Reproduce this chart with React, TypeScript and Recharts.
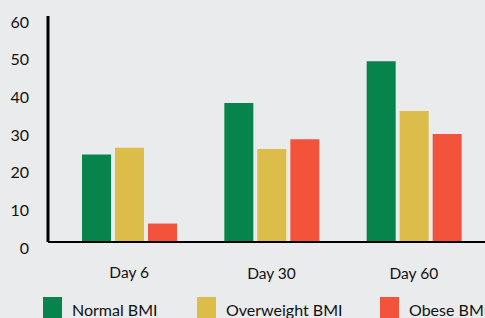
import { Bar, BarChart, XAxis, YAxis } from 'recharts';

const days = ['Day 6', 'Day 30', 'Day 60'];
const normalBmi = [23.2, 36.9, 48.0];
const overweightBmi = [25.0, 24.7, 34.8];
const obeseBmi = [4.9, 27.3, 28.7];
const yTicks = [0, 10, 20, 30, 40, 50, 60];

const COLORS = {
  normal: '#07834c',
  overweight: '#dcbd4a',
  obese: '#f2533a',
};
const FONT = 'Lato, "Open Sans", sans-serif';

const chartData = days.map((day, i) => ({
  day,
  normal: normalBmi[i],
  overweight: overweightBmi[i],
  obese: obeseBmi[i],
}));

function YTick({ x, y, payload }: any) {
  return (
    <text x={x} y={y + 6} dy="0.355em" textAnchor="end" fontSize={16} fill="#111" fontFamily={FONT}>
      {payload.value}
    </text>
  );
}

function XTick({ x, y, payload, index }: any) {
  const offsets = [22, 23, 23];
  return (
    <text x={x} y={y + offsets[index ?? 0]} dy="0.355em" textAnchor="middle" fontSize={15.5} fill="#111" fontFamily={FONT}>
      {payload.value}
    </text>
  );
}

const legendItems = [
  { label: 'Normal BMI', color: COLORS.normal, left: 43 },
  { label: 'Overweight BMI', color: COLORS.overweight, left: 197 },
  { label: 'Obese BMI', color: COLORS.obese, left: 380 },
];

export default function App() {
  return (
    <div
      style={{
        position: 'fixed',
        left: 0,
        top: 0,
        width: 485,
        height: 318,
        overflow: 'hidden',
        background: '#eaebed',
        fontFamily: FONT,
      }}
    >
      <BarChart
        width={485}
        height={318}
        data={chartData}
        margin={{ top: 16, right: 0, left: 0, bottom: 0 }}
        barSize={29}
        barGap={4}
      >
        <XAxis
          dataKey="day"
          height={76}
          padding={{ left: 10, right: 0 }}
          axisLine={{ stroke: '#000', strokeWidth: 2 }}
          tickLine={false}
          tick={<XTick />}
          interval={0}
        />
        <YAxis
          width={48}
          domain={[0, 60]}
          ticks={yTicks}
          axisLine={{ stroke: '#000', strokeWidth: 3 }}
          tickLine={false}
          tickSize={0}
          tickMargin={19}
          tick={<YTick />}
        />
        <Bar dataKey="normal" fill={COLORS.normal} isAnimationActive={false} />
        <Bar dataKey="overweight" fill={COLORS.overweight} isAnimationActive={false} />
        <Bar dataKey="obese" fill={COLORS.obese} isAnimationActive={false} />
      </BarChart>
      {legendItems.map((item) => (
        <div key={item.label} style={{ position: 'absolute', left: item.left, top: 297 }}>
          <div style={{ position: 'absolute', left: 0, top: 0, width: 19, height: 24, background: item.color }} />
          <div
            style={{
              position: 'absolute',
              left: 29,
              top: 3,
              fontSize: 16,
              color: '#111',
              whiteSpace: 'nowrap',
              lineHeight: '20px',
            }}
          >
            {item.label}
          </div>
        </div>
      ))}
    </div>
  );
}
